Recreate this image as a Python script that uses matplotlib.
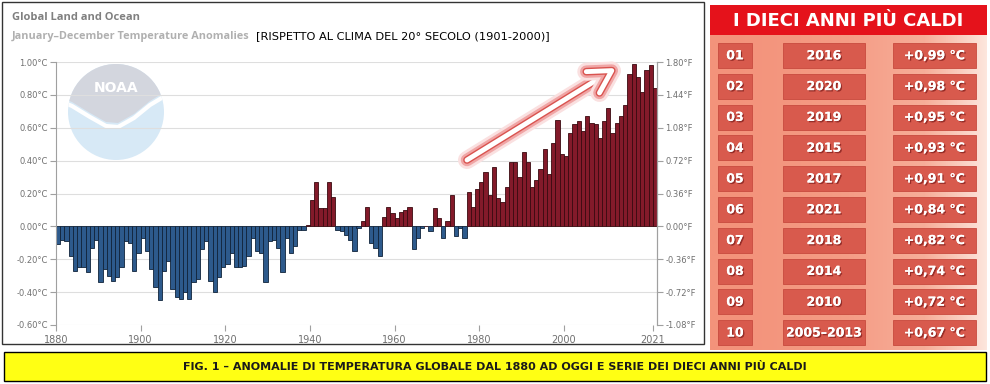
import numpy as np
import matplotlib
matplotlib.use("Agg")
import matplotlib.pyplot as plt
import matplotlib.patheffects as pe
from matplotlib.patches import Rectangle, Circle, Polygon

# Annual global land+ocean anomalies (deg C vs 1901-2000)

years = np.arange(1880, 2022)
anomalies = [
    -0.11, -0.08, -0.09, -0.18, -0.27, -0.25, -0.25, -0.28, -0.13, -0.08,
    -0.34, -0.26, -0.30, -0.33, -0.31, -0.25, -0.09, -0.10, -0.27, -0.16,
    -0.07, -0.15, -0.26, -0.37, -0.45, -0.27, -0.21, -0.38, -0.43, -0.44,
    -0.40, -0.44, -0.34, -0.32, -0.14, -0.09, -0.33, -0.40, -0.31, -0.25,
    -0.23, -0.16, -0.25, -0.25, -0.24, -0.18, -0.07, -0.15, -0.16, -0.34,
    -0.09, -0.08, -0.13, -0.28, -0.07, -0.16, -0.12, -0.02, -0.02, 0.01,
    0.16, 0.27, 0.11, 0.11, 0.27, 0.18, -0.02, -0.03, -0.05, -0.08,
    -0.15, -0.01, 0.03, 0.12, -0.10, -0.13, -0.18, 0.06, 0.12, 0.08,
    0.05, 0.09, 0.10, 0.12, -0.14, -0.07, -0.01, 0.00, -0.03, 0.11,
    0.05, -0.07, 0.03, 0.19, -0.06, -0.01, -0.07, 0.21, 0.12, 0.23,
    0.27, 0.33, 0.19, 0.36, 0.17, 0.15, 0.24, 0.39, 0.39, 0.30,
    0.45, 0.39, 0.24, 0.28, 0.35, 0.47, 0.32, 0.51, 0.65, 0.44,
    0.43, 0.57, 0.62, 0.64, 0.58, 0.67, 0.63, 0.62, 0.54, 0.64,
    0.72, 0.57, 0.63, 0.67, 0.74, 0.93, 0.99, 0.91, 0.82, 0.95,
    0.98, 0.84,
]

year_ticks = [1880, 1900, 1920, 1940, 1960, 1980, 2000, 2021]
c_ticks = [-0.60, -0.40, -0.20, 0.00, 0.20, 0.40, 0.60, 0.80, 1.00]
f_ticks = [-1.08, -0.72, -0.36, 0.00, 0.36, 0.72, 1.08, 1.44, 1.80]

# Top ten warmest years table

ranks = ["01", "02", "03", "04", "05", "06", "07", "08", "09", "10"]
top_years = ["2016", "2020", "2019", "2015", "2017", "2021", "2018", "2014", "2010", "2005–2013"]
top_values = [0.99, 0.98, 0.95, 0.93, 0.91, 0.84, 0.82, 0.74, 0.72, 0.67]

COND = ["Liberation Sans Narrow", "DejaVu Sans"]

fig = plt.figure(figsize=(9.9, 3.84), dpi=100)
fig.patch.set_facecolor("white")

# background layer in pixel coordinates
bg = fig.add_axes([0, 0, 1, 1])
bg.set_zorder(0)
bg.axis("off")

# left panel frame
bg.add_patch(Rectangle((2, 2), 702, 342, fill=False, edgecolor="#333333", lw=1))

# NOAA watermark
logo = Circle((116, 112), 48, facecolor="#d7e9f6", edgecolor="none")
bg.add_patch(logo)
wing = [(55, 95), (72, 102), (90, 113), (106, 122), (118, 123), (134, 114),
        (150, 101), (175, 86)]
cap = Polygon(wing + [(175, 55), (55, 55)], closed=True, facecolor="#d3d6de",
              edgecolor="none")
bg.add_patch(cap)
cap.set_clip_path(logo)
wx, wy = zip(*[(x, y + 4) for x, y in wing])
wl, = bg.plot(wx, wy, color="white", lw=3)
wl.set_clip_path(logo)
bg.text(116, 88, "NOAA", color="white", fontsize=10, fontweight="bold",
        ha="center", va="center")

# titles
bg.text(12, 17, "Global Land and Ocean", color="#808080", fontsize=8,
        fontweight="bold", family="Open Sans", va="center")
bg.text(12, 36, "January–December Temperature Anomalies", color="#b0b0b0",
        fontsize=7.8, fontweight="bold", family="Open Sans", va="center")
bg.text(256, 36, "[RISPETTO AL CLIMA DEL 20° SECOLO (1901-2000)]", color="black",
        fontsize=8.2, family=COND, va="center")

# right panel: gradient background
cmap = matplotlib.colors.LinearSegmentedColormap.from_list(
    "salmon", ["#f3937b", "#f59d86", "#f7ae99", "#fde6dd"])
grad = np.linspace(0, 1, 256) ** 1.6
bg.imshow(grad[None, :], cmap=cmap, extent=(710, 987, 350, 5), aspect="auto",
          zorder=1)
bg.add_patch(Rectangle((710, 5), 277, 30, facecolor="#e5121b", edgecolor="none",
                       zorder=2))
shadow = [pe.withSimplePatchShadow(offset=(1, -1), shadow_rgbFace="#6b1010",
                                   alpha=0.6), pe.Normal()]
bg.text(848, 20.5, "I DIECI ANNI PIÙ CALDI", color="white", fontsize=13,
        fontweight="bold", ha="center", va="center", zorder=3)

cols = [(718, 752), (783, 865), (893, 976)]
for k in range(len(ranks)):
    top = 43 + 30.8 * k
    labels = [ranks[k], top_years[k], f"+{top_values[k]:.2f} °C".replace(".", ",")]
    for (x0, x1), lab in zip(cols, labels):
        bg.add_patch(Rectangle((x0, top), x1 - x0, 25, facecolor="#d85a4d",
                               edgecolor="#c84a3e", lw=0.6, zorder=2))
        t = bg.text((x0 + x1) / 2, top + 12.8, lab, color="white", fontsize=9,
                    fontweight="bold", family=COND, ha="center", va="center",
                    zorder=3)
        t.set_path_effects(shadow)

# caption bar
bg.add_patch(Rectangle((4, 352), 982, 29, facecolor="#ffff14", edgecolor="black",
                       lw=1, zorder=2))
bg.text(495, 366.5,
        "FIG. 1 – ANOMALIE DI TEMPERATURA GLOBALE DAL 1880 AD OGGI E SERIE DEI DIECI ANNI PIÙ CALDI",
        color="#1a1a1a", fontsize=8, fontweight="bold", family=COND,
        ha="center", va="center", zorder=3)

bg.set_xlim(0, 990)
bg.set_ylim(384, 0)

# main bar chart
ax = fig.add_axes([56 / 990, 1 - 325 / 384, 601 / 990, 263 / 384])
ax.set_zorder(2)
ax.set_facecolor("none")

vals = np.array(anomalies)
colors = np.where(vals >= 0, "#831a2a", "#2d5a8c")
edges = np.where(vals >= 0, "#3a0a10", "#10233a")
ax.bar(years, vals, width=1.0, align="edge", color=colors, edgecolor=edges,
       linewidth=0.6, zorder=2)

ax.set_xlim(1880, 2022)
ax.set_ylim(-0.6, 1.0)
ax.set_yticks(c_ticks)
ax.set_yticklabels([f"{v:.2f}°C" for v in c_ticks])
ax.set_xticks(year_ticks)
ax.set_xticklabels([str(y) for y in year_ticks])
ax.grid(axis="y", color="#dedede", lw=0.8, zorder=0)
ax.set_axisbelow(True)
for s in ["top", "bottom"]:
    ax.spines[s].set_visible(False)
for s in ["left", "right"]:
    ax.spines[s].set_color("#a0a0a0")
ax.tick_params(axis="y", length=4, width=0.8, color="#a0a0a0",
               labelcolor="#707070", labelsize=6, pad=2)
ax.tick_params(axis="x", length=4, width=0.8, color="#a0a0a0",
               labelcolor="#707070", labelsize=7, pad=3)

ax2 = ax.twinx()
ax2.set_ylim(f_ticks[0], f_ticks[-1])
ax2.set_yticks(f_ticks)
ax2.set_yticklabels([f"{v:.2f}°F" for v in f_ticks])
for s in ["top", "bottom", "left"]:
    ax2.spines[s].set_visible(False)
ax2.spines["right"].set_color("#a0a0a0")
ax2.tick_params(axis="y", length=4, width=0.8, color="#a0a0a0",
                labelcolor="#707070", labelsize=6, pad=2)

# glowing trend arrow
arr = ax2.annotate("", xy=(616, 384 - 68), xytext=(467, 384 - 160),
                   xycoords="figure pixels", textcoords="figure pixels",
                   arrowprops=dict(arrowstyle="->,head_length=0.8,head_width=0.45",
                                   color="white", lw=3.5, mutation_scale=20,
                                   shrinkA=0, shrinkB=0))
arr.arrow_patch.set_path_effects([
    pe.Stroke(linewidth=13, foreground="#fae0e0"),
    pe.Stroke(linewidth=9, foreground="#f0a5a5"),
    pe.Stroke(linewidth=5.5, foreground="#d9534f"),
    pe.Normal(),
])

fig.savefig("out.png", dpi=100)
